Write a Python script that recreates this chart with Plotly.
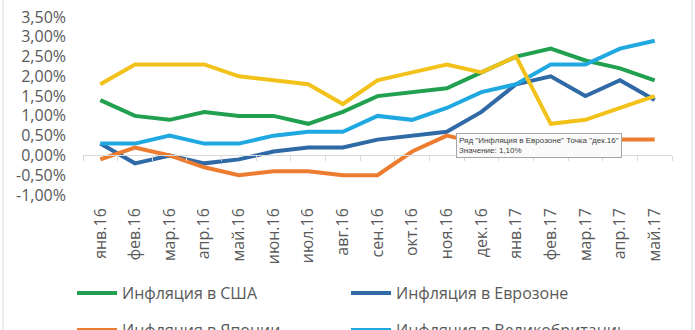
import plotly.graph_objects as go

months = ["янв.16", "фев.16", "мар.16", "апр.16", "май.16", "июн.16", "июл.16", "авг.16",
          "сен.16", "окт.16", "ноя.16", "дек.16", "янв.17", "фев.17", "мар.17", "апр.17", "май.17"]

usa = [1.4, 1.0, 0.9, 1.1, 1.0, 1.0, 0.8, 1.1, 1.5, 1.6, 1.7, 2.1, 2.5, 2.7, 2.4, 2.2, 1.9]
euro = [0.3, -0.2, 0.0, -0.2, -0.1, 0.1, 0.2, 0.2, 0.4, 0.5, 0.6, 1.1, 1.8, 2.0, 1.5, 1.9, 1.4]
japan = [-0.1, 0.2, 0.0, -0.3, -0.5, -0.4, -0.4, -0.5, -0.5, 0.1, 0.5, 0.3, 0.4, 0.3, 0.2, 0.4, 0.4]
uk = [0.3, 0.3, 0.5, 0.3, 0.3, 0.5, 0.6, 0.6, 1.0, 0.9, 1.2, 1.6, 1.8, 2.3, 2.3, 2.7, 2.9]
china = [1.8, 2.3, 2.3, 2.3, 2.0, 1.9, 1.8, 1.3, 1.9, 2.1, 2.3, 2.1, 2.5, 0.8, 0.9, 1.2, 1.5]

ytick_vals = [-1.0, -0.5, 0.0, 0.5, 1.0, 1.5, 2.0, 2.5, 3.0, 3.5]
ytick_text = ["-1,00%", "-0,50%", "0,00%", "0,50%", "1,00%", "1,50%", "2,00%", "2,50%", "3,00%", "3,50%"]

series = [
    ("Инфляция в США", usa, "#21a04f", "legend", "x"),
    ("Инфляция в Еврозоне", euro, "#2f69a6", "legend", "x"),
    ("Инфляция в Японии", japan, "#ec7c30", "legend2", "x2"),
    ("Инфляция в Великобритании", uk, "#20a8e0", "legend2", "x"),
    ("Инфляция в Китае", china, "#f3c21a", "legend3", "x"),
]

FONT = "Open Sans"
GREY = "#595959"
W, H = 695, 330

fig = go.Figure()
for name, vals, color, leg, xa in series:
    fig.add_trace(go.Scatter(
        x=months, y=vals, name=name, mode="lines",
        line=dict(color=color, width=4),
        legend=leg, xaxis=xa, yaxis="y",
        showlegend=(leg != "legend3"),
    ))

leg_common = dict(
    orientation="h", xanchor="left", yanchor="middle",
    xref="container", yref="container",
    entrywidth=219, entrywidthmode="pixels", itemwidth=40,
    font=dict(family=FONT, size=16, color=GREY), bgcolor="rgba(0,0,0,0)",
)

xrange = [-0.5, len(months) - 0.5]

fig.update_layout(
    width=W, height=H,
    margin=dict(l=83, r=23, t=17, b=135, autoexpand=False),
    paper_bgcolor="white", plot_bgcolor="white",
    font=dict(family=FONT, size=14, color=GREY),
    xaxis=dict(
        type="category", categoryorder="array", categoryarray=months, range=xrange,
        showgrid=False, showline=False, zeroline=False, automargin=False,
        tickangle=-90, ticks="", ticklabelstandoff=9,
        tickfont=dict(family=FONT, size=16, color=GREY),
    ),
    xaxis2=dict(
        type="category", overlaying="x", matches="x", anchor="free", position=(0 - (-1.0)) / 4.5,
        showgrid=False, showline=True, linecolor="#d9d9d9", linewidth=1,
        ticks="outside", tickson="boundaries", ticklen=5, tickcolor="#d9d9d9",
        showticklabels=False, zeroline=False, automargin=False,
    ),
    yaxis=dict(
        range=[-1.0, 3.5], tickvals=ytick_vals, ticktext=ytick_text,
        showgrid=False, zeroline=False, showline=False, ticks="", automargin=False,
        ticklabelstandoff=16,
        tickfont=dict(family=FONT, size=16, color=GREY),
    ),
    legend=dict(x=72 / W, y=1 - 293 / H, **leg_common),
    legend2=dict(x=72 / W, y=1 - 333 / H, **leg_common),
    showlegend=True,
    hovermode=False,
)

# chart area border
fig.add_shape(type="rect", xref="paper", yref="paper",
              x0=(3 - 83) / 589, x1=(692 - 83) / 589, y0=-0.9, y1=1.2,
              line=dict(color="#d9d9d9", width=1), fillcolor="rgba(0,0,0,0)", layer="below")

# Excel tooltip captured in the screenshot
fig.add_annotation(
    xref="paper", yref="paper", x=(456 - 83) / 589, y=(195 - 133) / 178,
    xanchor="left", yanchor="top", showarrow=False, align="left",
    text="Ряд \"Инфляция в Еврозоне\" Точка \"дек.16\"<br>Значение: 1,10%",
    font=dict(family="Liberation Sans", size=8, color="#404040"),
    bgcolor="#fafafa", bordercolor="#a6a6a6", borderwidth=1, borderpad=2,
)

fig.write_html("out.html")
